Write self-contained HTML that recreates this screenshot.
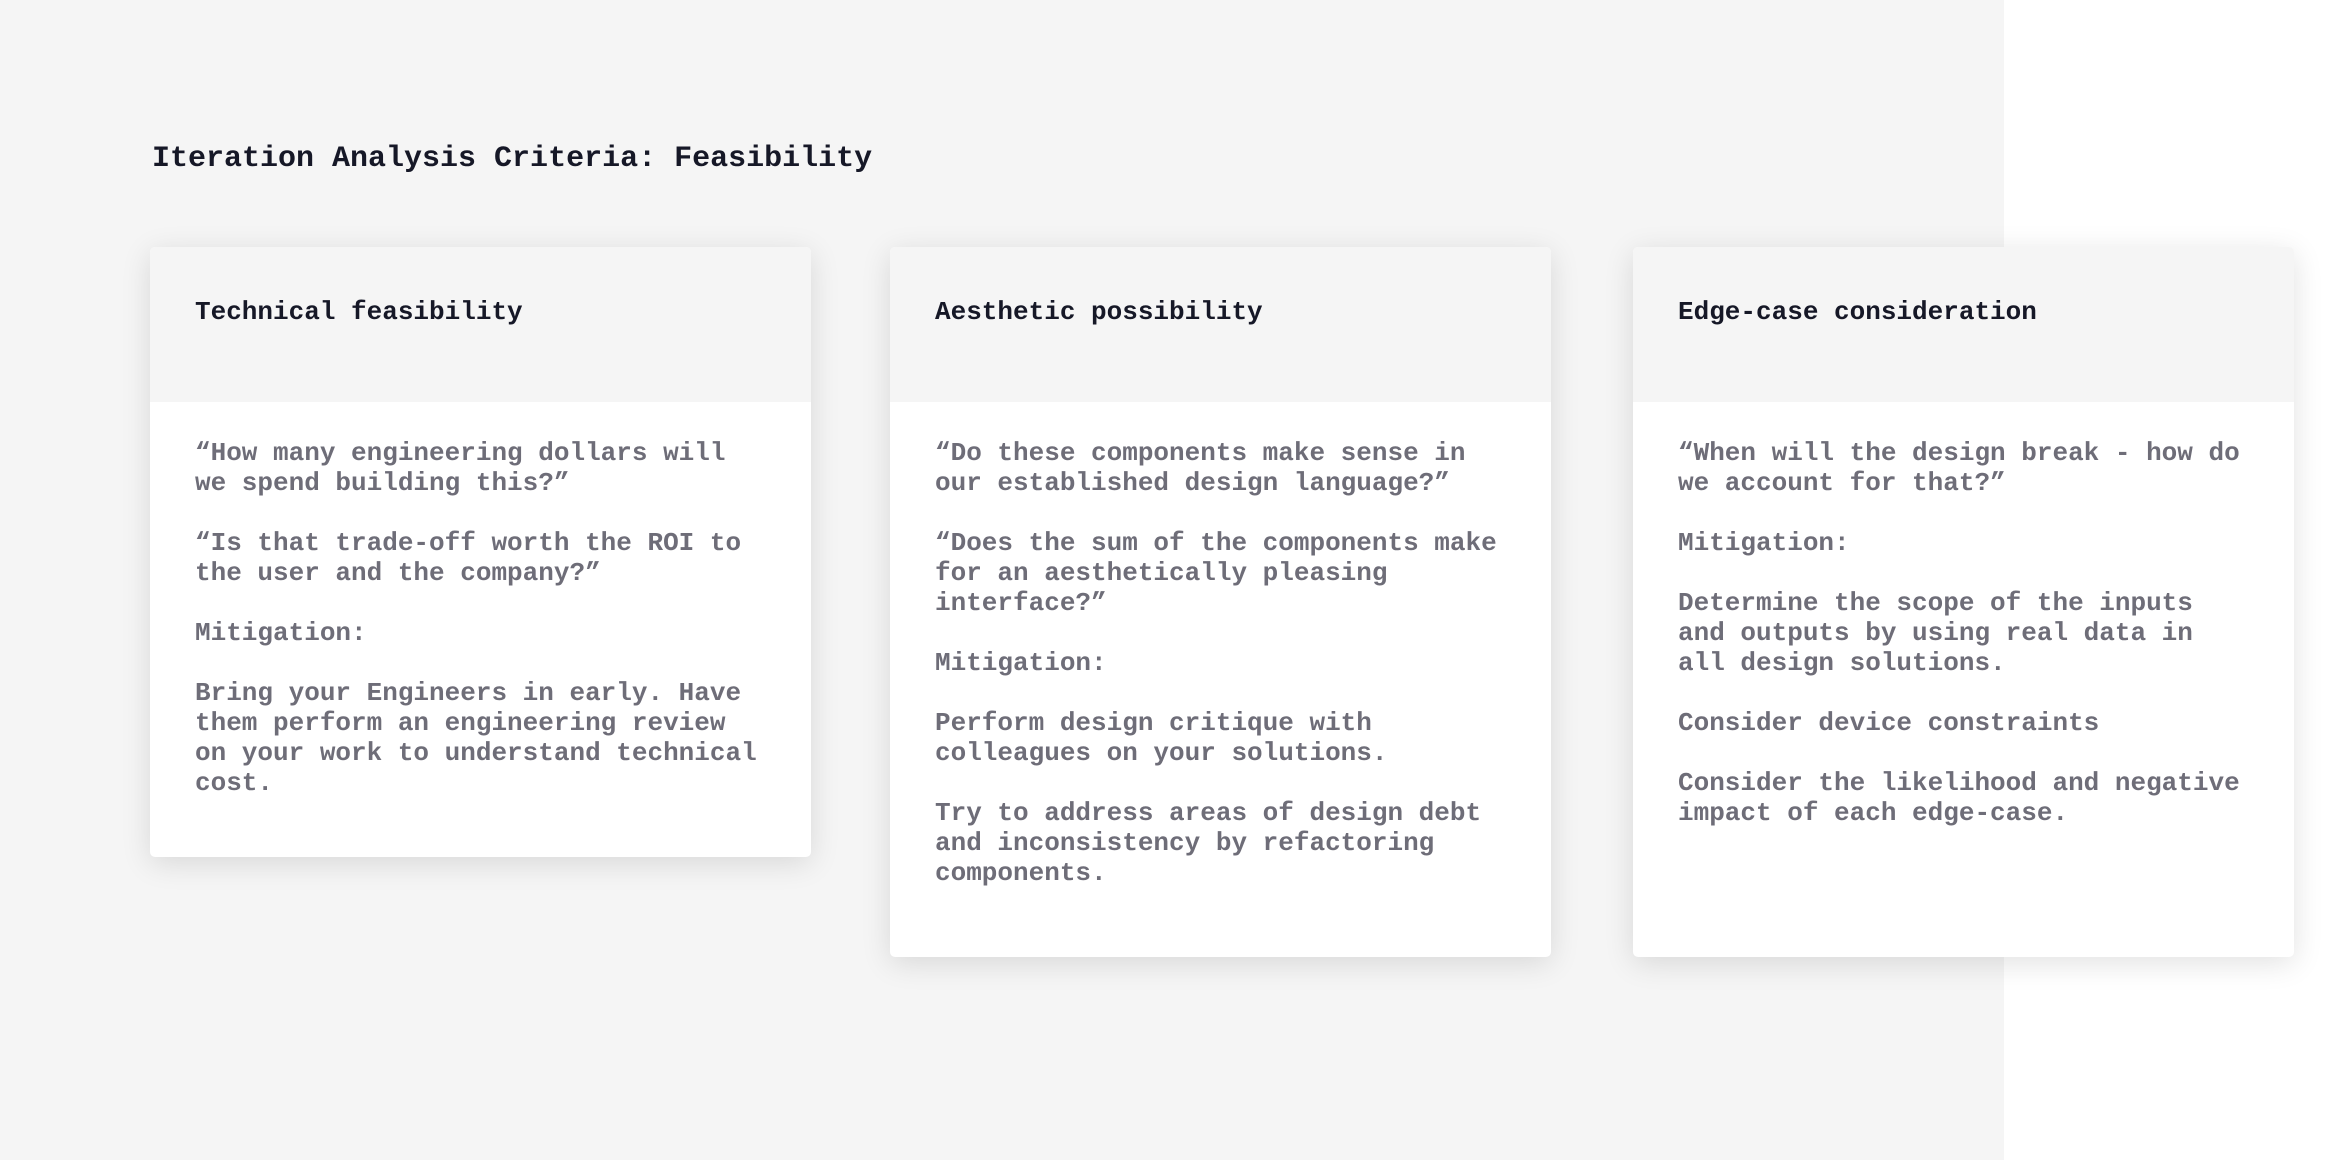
<!DOCTYPE html>
<html><head><meta charset="utf-8"><style>
body{margin:0;width:2334px;height:1160px;background:#fff;position:relative;overflow:hidden;font-family:"Liberation Mono","DejaVu Sans Mono",monospace;}
.bg{position:absolute;left:0;top:0;width:2004px;height:1160px;background:#f5f5f5;}
h1{position:absolute;left:152px;top:139px;margin:0;font-size:30px;line-height:40px;font-weight:bold;color:#161827;}
.card{position:absolute;top:247px;width:661px;background:#fff;border-radius:5px;box-shadow:0 6px 30px rgba(0,0,0,0.12);overflow:hidden;}
.hd{background:#f5f5f5;height:155px;box-sizing:border-box;padding:48px 45px 0;font-size:26px;line-height:30px;font-weight:bold;color:#161827;}
.hd span{display:block;margin-top:2px}
.bd{padding:36px 45px 0;font-size:26px;line-height:30px;font-weight:bold;color:#6e6d78;}
.bd p{margin:0 0 30px;}
</style></head><body>
<div class="bg"></div>
<h1>Iteration Analysis Criteria: Feasibility</h1>
<div class="card" style="left:150px;height:610px">
<div class="hd"><span>Technical feasibility</span></div>
<div class="bd">
<p>“How many engineering dollars will we spend building this?”</p>
<p>“Is that trade-off worth the ROI to the user and the company?”</p>
<p>Mitigation:</p>
<p>Bring your Engineers in early. Have them perform an engineering review on your work to understand technical cost.</p>
</div></div>
<div class="card" style="left:890px;height:710px">
<div class="hd"><span>Aesthetic possibility</span></div>
<div class="bd">
<p>“Do these components make sense in our established design language?”</p>
<p>“Does the sum of the components make for an aesthetically pleasing interface?”</p>
<p>Mitigation:</p>
<p>Perform design critique with colleagues on your solutions.</p>
<p>Try to address areas of design debt and inconsistency by refactoring components.</p>
</div></div>
<div class="card" style="left:1633px;height:710px">
<div class="hd"><span>Edge-case consideration</span></div>
<div class="bd">
<p>“When will the design break - how do we account for that?”</p>
<p>Mitigation:</p>
<p>Determine the scope of the inputs and outputs by using real data in all design solutions.</p>
<p>Consider device constraints</p>
<p>Consider the likelihood and negative impact of each edge-case.</p>
</div></div>
</body></html>
